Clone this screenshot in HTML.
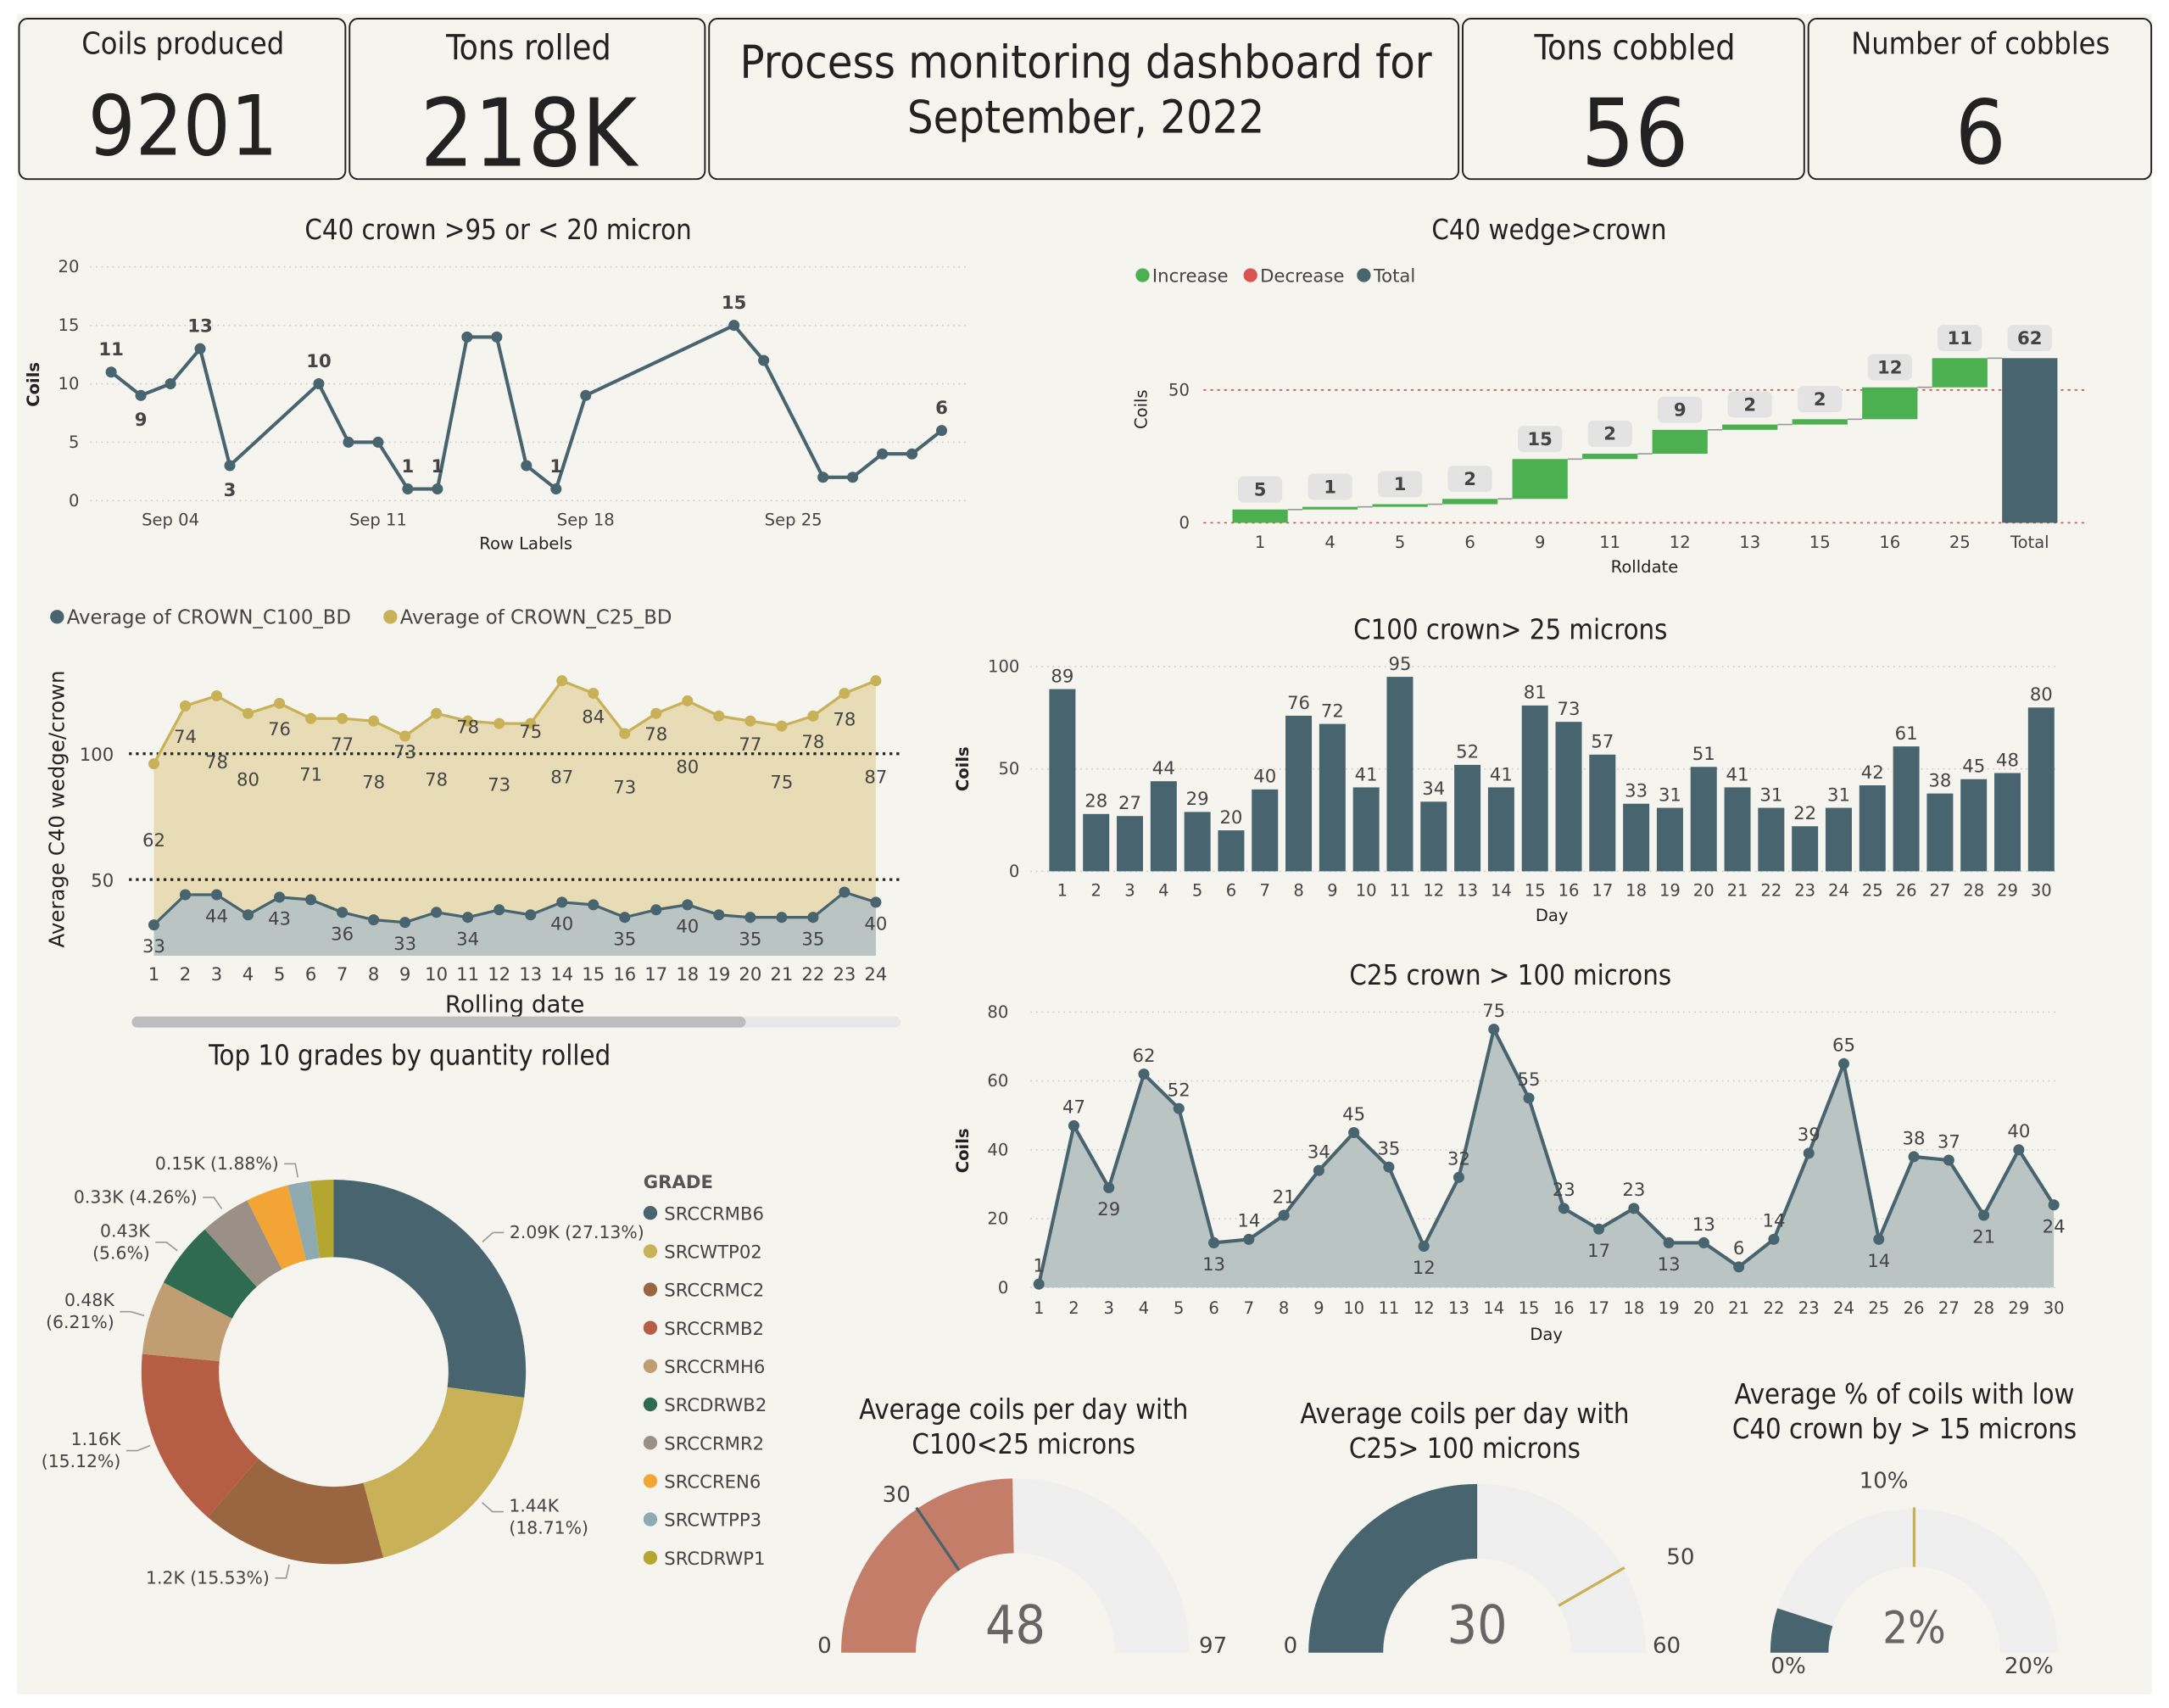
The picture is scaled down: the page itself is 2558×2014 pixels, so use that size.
<!DOCTYPE html>
<html><head><meta charset="utf-8"><style>
html,body{margin:0;padding:0;background:#fff;}
svg{display:block;font-family:"DejaVu Sans","Liberation Sans",sans-serif;}
.cond{font-family:"DejaVu Sans Condensed","DejaVu Sans","Liberation Sans",sans-serif;}
</style></head><body>
<svg id="root" width="2558" height="2014" viewBox="0 0 1568 1235" xmlns="http://www.w3.org/2000/svg">
<rect x="12" y="10" width="1544" height="1215" fill="#f6f4ef"/>
<g class="cond" fill="#222" text-anchor="middle">
 <g><rect x="13.5" y="13.5" width="236" height="116" rx="6" fill="#f6f4ef" stroke="#222" stroke-width="1.2"/>
 <text x="132" y="39" font-size="22">Coils produced</text><text x="132" y="112" font-size="60">9201</text></g>
 <g><rect x="252.5" y="13.5" width="257" height="116" rx="6" fill="#f6f4ef" stroke="#222" stroke-width="1.2"/>
 <text x="382" y="43" font-size="25">Tons rolled</text><text x="382" y="120" font-size="68">218K</text></g>
 <g><rect x="512.5" y="13.5" width="542" height="116" rx="6" fill="#f6f4ef" stroke="#222" stroke-width="1.2"/>
 <text x="785" y="56" font-size="33">Process monitoring dashboard for</text><text x="785" y="96" font-size="33">September, 2022</text></g>
 <g><rect x="1057.5" y="13.5" width="247" height="116" rx="6" fill="#f6f4ef" stroke="#222" stroke-width="1.2"/>
 <text x="1182" y="43" font-size="25">Tons cobbled</text><text x="1182" y="120" font-size="68">56</text></g>
 <g><rect x="1307.5" y="13.5" width="248" height="116" rx="6" fill="#f6f4ef" stroke="#222" stroke-width="1.2"/>
 <text x="1432" y="39" font-size="22">Number of cobbles</text><text x="1432" y="118" font-size="64">6</text></g>
</g>
<g id="g1"></g>
<g id="g2"></g>
<g id="g3"></g>
<g id="g4"></g>
<g id="g5"></g>
<g id="g6"></g>
<g id="g7"></g>
</svg>
<script>
// ---------- data ----------
const c40Days=[2,3,4,5,6,9,10,11,12,13,14,15,16,17,18,23,24,26,27,28,29,30];
const c40Vals=[11,9,10,13,3,10,5,5,1,1,14,14,3,1,9,15,12,2,2,4,4,6];
const c40LabelPos=['a','b','','a','b','a','','','a','a','','','','a','','a','','','','','','a'];
const c40YTicks=[0,5,10,15,20];
const c40XTicks=[4,11,18,25];
const c40XTickLabels=['Sep 04','Sep 11','Sep 18','Sep 25'];

const wfCats=['1','4','5','6','9','11','12','13','15','16','25'];
const wfVals=[5,1,1,2,15,2,9,2,2,12,11];
const wfTotal=62;
const wfYTicks=[0,50];

const avgDays=[1,2,3,4,5,6,7,8,9,10,11,12,13,14,15,16,17,18,19,20,21,22,23,24];
const avgC25=[96,119,123,116,120,114,114,113,107,116,113,112,112,129,124,108,116,121,115,113,111,115,124,129];
const avgC100=[32,44,44,36,43,42,37,34,33,37,35,38,36,41,40,35,38,40,36,35,35,35,45,41];
const avgC25Labels=['62','74','78','80','76','71','77','78','73','78','78','73','75','87','84','73','78','80','','77','75','78','78','87'];
const avgC25LabelVals=[66,107,97,90,110,92,104,89,101,90,111,88,109,91,115,87,108,95,0,104,89,105,114,91];
const avgC100Labels=['33','','44','','43','','36','','33','','34','','','40','','35','','40','','35','','35','','40'];
const avgYTicks=[50,100];

const barDays=[1,2,3,4,5,6,7,8,9,10,11,12,13,14,15,16,17,18,19,20,21,22,23,24,25,26,27,28,29,30];
const barVals=[89,28,27,44,29,20,40,76,72,41,95,34,52,41,81,73,57,33,31,51,41,31,22,31,42,61,38,45,48,80];
const barYTicks=[0,50,100];

const c25Days=[1,2,3,4,5,6,7,8,9,10,11,12,13,14,15,16,17,18,19,20,21,22,23,24,25,26,27,28,29,30];
const c25Vals=[1,47,29,62,52,13,14,21,34,45,35,12,32,75,55,23,17,23,13,13,6,14,39,65,14,38,37,21,40,24];
const c25LabelPos=['a','a','b','a','a','b','a','a','a','a','a','b','a','a','a','a','b','a','b','a','a','a','a','a','b','a','a','b','a','b'];
const c25YTicks=[0,20,40,60,80];

const grades=['SRCCRMB6','SRCWTP02','SRCCRMC2','SRCCRMB2','SRCCRMH6','SRCDRWB2','SRCCRMR2','SRCCREN6','SRCWTPP3','SRCDRWP1'];
const gradePct=[27.13,18.71,15.53,15.12,6.21,5.6,4.26,3.6,1.88,1.96];
const gradeLabels=['2.09K (27.13%)','1.44K (18.71%)','1.2K (15.53%)','1.16K (15.12%)','0.48K (6.21%)','0.43K (5.6%)','0.33K (4.26%)','','0.15K (1.88%)',''];
const gradeColors=['#48646e','#c9b158','#9a6642','#b65d45','#c09d72','#2e6b50','#9b9088','#f2a534','#90aab2','#b5a630'];

const gaugeValues=[48,30,2];
const gaugeMax=[97,60,20];
const gaugeTargets=[30,50,10];

// ---------- helpers ----------
const NS='http://www.w3.org/2000/svg';
function mk(p,tag,attrs,txt){const e=document.createElementNS(NS,tag);for(const k in attrs)e.setAttribute(k,attrs[k]);if(txt!==undefined)e.textContent=txt;p.appendChild(e);return e;}
const G=id=>document.getElementById(id);
const TXT='#444';

// ---------- chart 1 ----------
(function(){
const g=G('g1');
const x=d=>123+(d-4)*21.45, y=v=>362-v*8.45;
let t=mk(g,'text',{x:360,y:173,'font-size':20,'text-anchor':'middle',fill:'#222',class:'cond'},'C40 crown >95 or < 20 micron');

c40YTicks.forEach(v=>{
 let l=mk(g,'line',{x1:65,x2:700,y1:y(v),y2:y(v),stroke:'#ccc','stroke-dasharray':'1 3'});
 
 let tt=mk(g,'text',{x:57,y:y(v)+4,'font-size':12,'text-anchor':'end',fill:TXT},v);
 
});
c40XTicks.forEach((d,i)=>{
 let tt=mk(g,'text',{x:x(d),y:380,'font-size':12,'text-anchor':'middle',fill:TXT},c40XTickLabels[i]);
 
});
t=mk(g,'text',{x:380,y:397,'font-size':12,'text-anchor':'middle',fill:'#222'},'Row Labels');

t=mk(g,'text',{x:28,y:278,'font-size':12,'font-weight':'bold','text-anchor':'middle',fill:'#222',transform:'rotate(-90 28 278)'},'Coils');

const pts=c40Days.map((d,i)=>x(d)+','+y(c40Vals[i])).join(' ');
let pl=mk(g,'polyline',{points:pts,fill:'none',stroke:'#48646e','stroke-width':2.5});

c40Days.forEach((d,i)=>{
 let c=mk(g,'circle',{cx:x(d),cy:y(c40Vals[i]),r:4,fill:'#48646e'});
 
 if(c40LabelPos[i]){
  let ly=c40LabelPos[i]==='a'?y(c40Vals[i])-12:y(c40Vals[i])+22;
  let lt=mk(g,'text',{x:x(d),y:ly,'font-size':13,'font-weight':'bold','text-anchor':'middle',fill:TXT},c40Vals[i]);
  
 }
});
})();

// ---------- chart 2 waterfall ----------
(function(){
const g=G('g2');
const y=v=>378-v*1.92, x=i=>911+i*50.6, bw=40;
let t=mk(g,'text',{x:1120,y:173,'font-size':20,'text-anchor':'middle',fill:'#222',class:'cond'},'C40 wedge>crown');

[['Increase','#4caf50',820],['Decrease','#d9534f',898],['Total','#48646e',980]].forEach(a=>{
 let c=mk(g,'circle',{cx:a[2]+6,cy:199,r:5,fill:a[1]});
 let lt=mk(g,'text',{x:a[2]+13,y:204,'font-size':13,fill:TXT},a[0]);
});
[50,0].forEach(v=>{let l=mk(g,'line',{x1:870,x2:1508,y1:y(v),y2:y(v),stroke:'#d9534f','stroke-dasharray':'2 3'});
 });
wfYTicks.forEach(v=>{let tt=mk(g,'text',{x:860,y:y(v)+4,'font-size':12,'text-anchor':'end',fill:TXT},v);
 });
t=mk(g,'text',{x:829,y:296,'font-size':12,'text-anchor':'middle',fill:'#222',transform:'rotate(-90 829 296)'},'Coils');

let cum=0;
function lab(cx,top,val){
 let r=mk(g,'rect',{x:cx-16,y:top-24,width:32,height:19,rx:4,fill:'#e3e3e3'});
 let lt=mk(g,'text',{x:cx,y:top-10,'font-size':13,'font-weight':'bold','text-anchor':'middle',fill:TXT},val);
}
wfVals.forEach((v,i)=>{
 const y0=y(cum), y1=y(cum+v);
 let b=mk(g,'rect',{x:x(i)-bw/2,y:y1,width:bw,height:Math.max(1,y0-y1),fill:'#4caf50'});
 
 cum+=v;
 let cl=mk(g,'line',{x1:x(i)+bw/2,x2:x(i+1)-bw/2,y1:y(cum),y2:y(cum),stroke:'#999','stroke-width':1});
 
 lab(x(i),y1,v);
 let tt=mk(g,'text',{x:x(i),y:396,'font-size':12,'text-anchor':'middle',fill:TXT},wfCats[i]);
 
});
const ti=wfVals.length;
let tb=mk(g,'rect',{x:x(ti)-bw/2,y:y(wfTotal),width:bw,height:y(0)-y(wfTotal),fill:'#48646e'});

lab(x(ti),y(wfTotal),wfTotal);
let tt=mk(g,'text',{x:x(ti),y:396,'font-size':12,'text-anchor':'middle',fill:TXT},'Total');

t=mk(g,'text',{x:1189,y:414,'font-size':12,'text-anchor':'middle',fill:'#222'},'Rolldate');

})();

// ---------- chart 3 ----------
(function(){
const g=G('g3');
const x=d=>111+(d-1)*22.7, y=v=>727-v*1.82, base=691;
[['Average of CROWN_C100_BD','#48646e',35],['Average of CROWN_C25_BD','#c9b158',276]].forEach(a=>{
 let c=mk(g,'circle',{cx:a[2]+6,cy:446,r:5,fill:a[1]});
 let lt=mk(g,'text',{x:a[2]+13,y:451,'font-size':14,fill:TXT},a[0]);
});
const p25=avgDays.map((d,i)=>x(d)+','+y(avgC25[i])).join(' ');
const p100=avgDays.map((d,i)=>x(d)+','+y(avgC100[i])).join(' ');
let a=mk(g,'polygon',{points:x(1)+','+base+' '+p25+' '+x(24)+','+base,fill:'#e8dcb6'});

a=mk(g,'polygon',{points:x(1)+','+base+' '+p100+' '+x(24)+','+base,fill:'#b9c4c3'});

avgYTicks.forEach(v=>{
 let l=mk(g,'line',{x1:93,x2:650,y1:y(v),y2:y(v),stroke:'#222','stroke-width':2,'stroke-dasharray':'2 3'});
 
 let tt=mk(g,'text',{x:82,y:y(v)+5,'font-size':13,'text-anchor':'end',fill:TXT},v);
 
});
let l=mk(g,'polyline',{points:p25,fill:'none',stroke:'#c9b158','stroke-width':2});
l=mk(g,'polyline',{points:p100,fill:'none',stroke:'#48646e','stroke-width':2});
avgDays.forEach((d,i)=>{
 let c=mk(g,'circle',{cx:x(d),cy:y(avgC25[i]),r:4,fill:'#c9b158'});
 c=mk(g,'circle',{cx:x(d),cy:y(avgC100[i]),r:4,fill:'#48646e'});
 if(avgC25Labels[i]){let lt=mk(g,'text',{x:x(d),y:y(avgC25LabelVals[i])+5,'font-size':13,'text-anchor':'middle',fill:TXT},avgC25Labels[i]);
  }
 if(avgC100Labels[i]){let lt=mk(g,'text',{x:x(d),y:y(avgC100[i])+20,'font-size':13,'text-anchor':'middle',fill:TXT},avgC100Labels[i]);
  }
 let tt=mk(g,'text',{x:x(d),y:709,'font-size':13,'text-anchor':'middle',fill:TXT},d);
 
});
let t=mk(g,'text',{x:372,y:732,'font-size':17,'text-anchor':'middle',fill:'#222'},'Rolling date');

t=mk(g,'text',{x:46,y:585,'font-size':15,'text-anchor':'middle',fill:'#222',transform:'rotate(-90 46 585)'},'Average C40 wedge/crown');

let s=mk(g,'rect',{x:95,y:735,width:556,height:8,rx:4,fill:'#e8e8e8'});
s=mk(g,'rect',{x:95,y:735,width:444,height:8,rx:4,fill:'#bdbdbd'});
})();

// ---------- chart 4 bars ----------
(function(){
const g=G('g4');
const x=d=>768+(d-1)*24.41, y=v=>630-v*1.48, bw=19;
let t=mk(g,'text',{x:1092,y:462,'font-size':20,'text-anchor':'middle',fill:'#222',class:'cond'},'C100 crown> 25 microns');

barYTicks.forEach(v=>{
 let l=mk(g,'line',{x1:745,x2:1488,y1:y(v),y2:y(v),stroke:'#ccc','stroke-dasharray':'1 3'});
 let tt=mk(g,'text',{x:737,y:y(v)+4,'font-size':12,'text-anchor':'end',fill:TXT},v);
});
barDays.forEach((d,i)=>{
 let b=mk(g,'rect',{x:x(d)-bw/2,y:y(barVals[i]),width:bw,height:y(0)-y(barVals[i]),fill:'#48646e'});
 
 let lt=mk(g,'text',{x:x(d),y:y(barVals[i])-5,'font-size':13,'text-anchor':'middle',fill:TXT},barVals[i]);
 let tt=mk(g,'text',{x:x(d),y:648,'font-size':12,'text-anchor':'middle',fill:TXT},d);
});
t=mk(g,'text',{x:1122,y:666,'font-size':12,'text-anchor':'middle',fill:'#222'},'Day');
t=mk(g,'text',{x:700,y:556,'font-size':12,'font-weight':'bold','text-anchor':'middle',fill:'#222',transform:'rotate(-90 700 556)'},'Coils');
})();

// ---------- chart 5 area ----------
(function(){
const g=G('g5');
const x=d=>751+(d-1)*25.31, y=v=>931-v*2.49;
let t=mk(g,'text',{x:1092,y:712,'font-size':20,'text-anchor':'middle',fill:'#222',class:'cond'},'C25 crown > 100 microns');

c25YTicks.forEach(v=>{
 let l=mk(g,'line',{x1:745,x2:1488,y1:y(v),y2:y(v),stroke:'#ccc','stroke-dasharray':'1 3'});
 let tt=mk(g,'text',{x:729,y:y(v)+4,'font-size':12,'text-anchor':'end',fill:TXT},v);
});
const pts=c25Days.map((d,i)=>x(d)+','+y(c25Vals[i])).join(' ');
let a=mk(g,'polygon',{points:x(1)+','+y(0)+' '+pts+' '+x(30)+','+y(0),fill:'#b9c4c3'});
let l=mk(g,'polyline',{points:pts,fill:'none',stroke:'#48646e','stroke-width':2.5});
c25Days.forEach((d,i)=>{
 let c=mk(g,'circle',{cx:x(d),cy:y(c25Vals[i]),r:4,fill:'#48646e'});
 let ly=c25LabelPos[i]==='a'?y(c25Vals[i])-9:y(c25Vals[i])+20;
 let lt=mk(g,'text',{x:x(d),y:ly,'font-size':13,'text-anchor':'middle',fill:TXT},c25Vals[i]);
 let tt=mk(g,'text',{x:x(d),y:950,'font-size':12,'text-anchor':'middle',fill:TXT},d);
});
t=mk(g,'text',{x:1118,y:969,'font-size':12,'text-anchor':'middle',fill:'#222'},'Day');
t=mk(g,'text',{x:700,y:832,'font-size':12,'font-weight':'bold','text-anchor':'middle',fill:'#222',transform:'rotate(-90 700 832)'},'Coils');
})();

// ---------- donut ----------
(function(){
const g=G('g6');
const cx=241,cy=992,R=139,r=83;
let t=mk(g,'text',{x:296,y:770,'font-size':20,'text-anchor':'middle',fill:'#222',class:'cond'},'Top 10 grades by quantity rolled');

const tot=gradePct.reduce((s,v)=>s+v,0);
let ang=-Math.PI/2;
const P=(rad,a)=>[cx+rad*Math.cos(a),cy+rad*Math.sin(a)];
gradePct.forEach((v,i)=>{
 const a0=ang,a1=ang+v/tot*2*Math.PI;ang=a1;
 const lg=(a1-a0)>Math.PI?1:0;
 const [x0,y0]=P(R,a0),[x1,y1]=P(R,a1),[x2,y2]=P(r,a1),[x3,y3]=P(r,a0);
 let s=mk(g,'path',{d:`M${x0},${y0}A${R},${R} 0 ${lg} 1 ${x1},${y1}L${x2},${y2}A${r},${r} 0 ${lg} 0 ${x3},${y3}Z`,fill:gradeColors[i]});
 
 if(gradeLabels[i]){
  const m=(a0+a1)/2,[lx,ly]=P(R+4,m),[ex,ey]=P(R+14,m);
  const right=Math.cos(m)>=0, hx=ex+(right?8:-8);
  let pl=mk(g,'polyline',{points:`${lx},${ly} ${ex},${ey} ${hx},${ey}`,fill:'none',stroke:'#999'});
  const parts=gradeLabels[i].split(' ');
  if(i===3||i===4||i===5){
   let lt=mk(g,'text',{x:hx-4,y:ey-4,'font-size':12.5,'text-anchor':'end',fill:TXT},parts[0]);
   lt=mk(g,'text',{x:hx-4,y:ey+12,'font-size':12.5,'text-anchor':'end',fill:TXT},parts[1]);
  } else if(i===1){
   let lt=mk(g,'text',{x:hx+4,y:ey,'font-size':12.5,'text-anchor':'start',fill:TXT},parts[0]);
   lt=mk(g,'text',{x:hx+4,y:ey+16,'font-size':12.5,'text-anchor':'start',fill:TXT},parts[1]);
  } else {
   let lt=mk(g,'text',{x:hx+(right?4:-4),y:ey+4,'font-size':12.5,'text-anchor':right?'start':'end',fill:TXT},gradeLabels[i]);
  }
 }
});
t=mk(g,'text',{x:465,y:859,'font-size':13,'font-weight':'bold',fill:'#555'},'GRADE');
grades.forEach((n,i)=>{
 const yy=877+i*27.7;
 let c=mk(g,'circle',{cx:470,cy:yy,r:5,fill:gradeColors[i]});
 let lt=mk(g,'text',{x:480,y:yy+5,'font-size':13,fill:TXT},n);
});
})();

// ---------- gauges ----------
(function(){
const g=G('g7');
const defs=[
 {cx:734,cy:1195,R:126,r:72,col:'#c47d68',tcol:'#48646e',title:['Average coils per day with','C100<25 microns'],tx:740,ty:1026,minL:'0',maxL:'97',tgtL:'30',val:'48',minX:596,maxX:877,lY:1195,tgX:648,tgY:1086},
 {cx:1068,cy:1195,R:122,r:68,col:'#48646e',tcol:'#c9b158',title:['Average coils per day with','C25> 100 microns'],tx:1059,ty:1029,minL:'0',maxL:'60',tgtL:'50',val:'30',minX:933,maxX:1205,lY:1195,tgX:1215,tgY:1131},
 {cx:1384,cy:1195,R:104,r:62,col:'#48646e',tcol:'#c9b158',title:['Average % of coils with low','C40 crown by > 15 microns'],tx:1377,ty:1015,minL:'0%',maxL:'20%',tgtL:'10%',val:'2%',minX:1293,maxX:1467,lY:1210,tgX:1362,tgY:1076}
];
defs.forEach((d,i)=>{
 const arc=(R,r,a0,a1)=>{const p=(rad,a)=>[d.cx+rad*Math.cos(a),d.cy+rad*Math.sin(a)];const [x0,y0]=p(R,a0),[x1,y1]=p(R,a1),[x2,y2]=p(r,a1),[x3,y3]=p(r,a0);return `M${x0},${y0}A${R},${R} 0 0 1 ${x1},${y1}L${x2},${y2}A${r},${r} 0 0 0 ${x3},${y3}Z`;};
 const aOf=v=>Math.PI+Math.PI*v/gaugeMax[i];
 d.title.forEach((tl,k)=>{let t=mk(g,'text',{x:d.tx,y:d.ty+k*25,'font-size':20,'text-anchor':'middle',fill:'#222',class:'cond'},tl);});
 let b=mk(g,'path',{d:arc(d.R,d.r,Math.PI,2*Math.PI),fill:'#efefef'});
 b=mk(g,'path',{d:arc(d.R,d.r,Math.PI,aOf(gaugeValues[i])),fill:d.col});
 const ta=aOf(gaugeTargets[i]);
 let tl=mk(g,'line',{x1:d.cx+d.r*Math.cos(ta),y1:d.cy+d.r*Math.sin(ta),x2:d.cx+(d.R+1)*Math.cos(ta),y2:d.cy+(d.R+1)*Math.sin(ta),stroke:d.tcol,'stroke-width':2});
 
 let t=mk(g,'text',{x:d.minX,y:d.lY,'font-size':16,'text-anchor':'middle',fill:TXT},d.minL);
 t=mk(g,'text',{x:d.maxX,y:d.lY,'font-size':16,'text-anchor':'middle',fill:TXT},d.maxL);
 t=mk(g,'text',{x:d.tgX,y:d.tgY,'font-size':16,'text-anchor':'middle',fill:TXT},d.tgtL);
 t=mk(g,'text',{x:d.cx,y:d.cy-7,'font-size':i===2?32:38,'text-anchor':'middle',fill:'#666',class:'cond'},d.val);
});
})();
</script>
</body></html>
